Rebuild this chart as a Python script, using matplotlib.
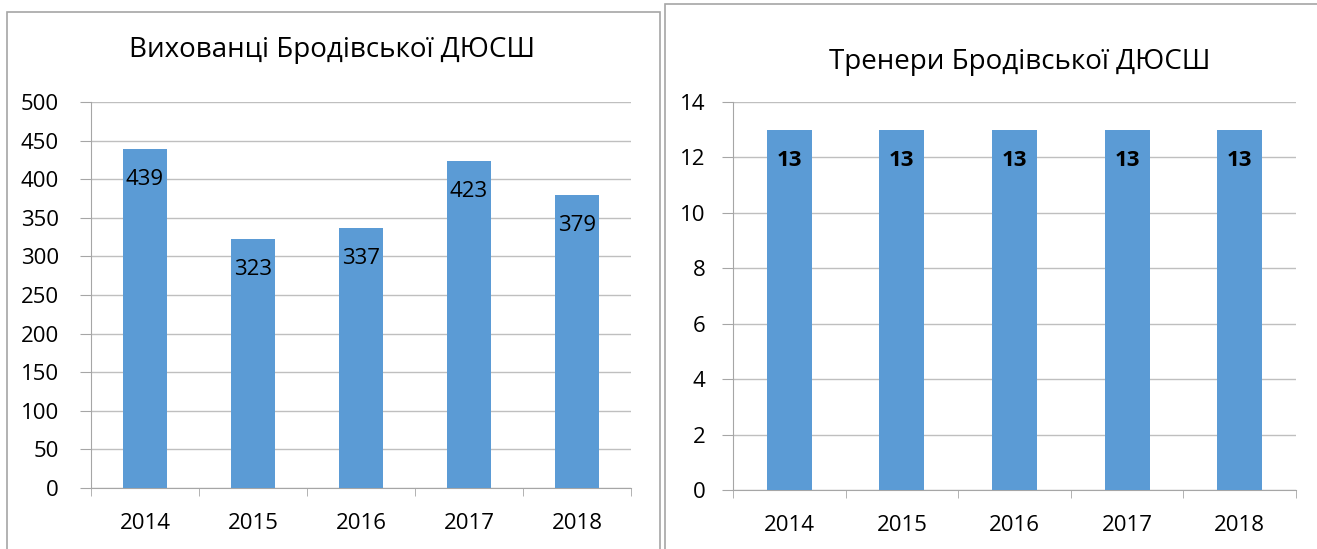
import matplotlib.pyplot as plt
from matplotlib.patches import Rectangle
import matplotlib.ticker as ticker

years = ['2014', '2015', '2016', '2017', '2018']
pupils = [439, 323, 337, 423, 379]
coaches = [13, 13, 13, 13, 13]

bar_color = '#5B9BD5'
plt.rcParams['font.family'] = ['Open Sans', 'DejaVu Sans']

W, H = 1317, 549
fig = plt.figure(figsize=(W / 100, H / 100), dpi=100)

# panel frames (bottom edges run off the picture)
fig.patches.append(Rectangle((7 / W, -0.1), (660 - 7) / W, 1.1 - 12 / H, transform=fig.transFigure,
                             fill=False, edgecolor='#a6a6a6', linewidth=1.2))
fig.patches.append(Rectangle((665 / W, -0.1), (1330 - 665) / W, 1.1 - 4 / H, transform=fig.transFigure,
                             fill=False, edgecolor='#a6a6a6', linewidth=1.2))


def make_axes(x0, x1, ytop, ybot):
    return fig.add_axes([x0 / W, 1 - ybot / H, (x1 - x0) / W, (ybot - ytop) / H])


def style(ax, vals, ymax, step, bold, ypad):
    x = range(len(vals))
    ax.bar(x, vals, width=0.4, color=bar_color, zorder=3)
    ax.set_xlim(-0.5, len(vals) - 0.5)
    ax.set_ylim(0, ymax)
    ax.yaxis.set_major_locator(ticker.MultipleLocator(step))
    ax.grid(axis='y', color='#bfbfbf', linewidth=1, zorder=0)
    for s in ['top', 'right']:
        ax.spines[s].set_visible(False)
    ax.spines['left'].set_color('#a6a6a6')
    ax.spines['bottom'].set_color('#a6a6a6')
    ax.set_xticks(list(x))
    ax.set_xticklabels(years)
    ax.set_xticks([i - 0.5 for i in range(len(vals) + 1)], minor=True)
    ax.tick_params(axis='x', which='major', length=0, pad=18, labelsize=16)
    ax.tick_params(axis='x', which='minor', length=6, color='#a6a6a6', direction='out')
    ax.tick_params(axis='y', length=8, color='#a6a6a6', pad=ypad, labelsize=16)
    for i, v in enumerate(vals):
        ax.annotate(str(v), (i, v), xytext=(0, -22), textcoords='offset points',
                    ha='center', va='center', fontsize=16,
                    fontweight='bold' if bold else 'normal', zorder=4)


ax1 = make_axes(91, 631, 102, 488)
style(ax1, pupils, 500, 50, False, 15)
fig.text(332 / W, 1 - 50 / H, 'Вихованці Бродівської ДЮСШ', ha='center', va='center', fontsize=20)

ax2 = make_axes(733, 1296, 102, 490)
style(ax2, coaches, 14, 2, True, 12)
fig.text(1020 / W, 1 - 62 / H, 'Тренери Бродівської ДЮСШ', ha='center', va='center', fontsize=20)

fig.savefig('out.png', dpi=100)
